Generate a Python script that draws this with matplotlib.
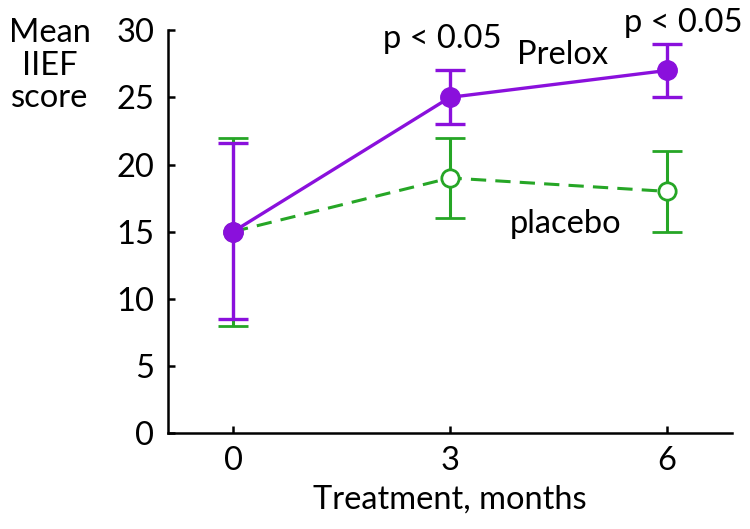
import numpy as np
import matplotlib
matplotlib.use('Agg')
import matplotlib.pyplot as plt

plt.rcParams['font.family'] = ['Lato', 'DejaVu Sans']

months = [0, 3, 6]

prelox_mean = [15, 25, 27]
prelox_lo = [8.5, 23, 25]
prelox_hi = [21.6, 27, 29]

placebo_mean = [15, 19, 18]
placebo_lo = [8, 16, 15]
placebo_hi = [22, 22, 21]

purple = '#8a10dc'
green = '#26a626'
fs = 23.5

fig = plt.figure(figsize=(7.5, 5.29), dpi=100)
ax = fig.add_axes([0.224, 0.181, 0.752, 0.762])

# placebo first so prelox sits on top
pl_err = [np.array(placebo_mean) - np.array(placebo_lo), np.array(placebo_hi) - np.array(placebo_mean)]
ax.errorbar(months, placebo_mean, yerr=pl_err, color=green, ecolor=green, elinewidth=2.2,
            capsize=11, capthick=2.2, linestyle=(0, (5, 3)), linewidth=2.2,
            marker='o', markersize=12.5, markerfacecolor='white', markeredgecolor=green,
            markeredgewidth=2, clip_on=False, zorder=2)

pr_err = [np.array(prelox_mean) - np.array(prelox_lo), np.array(prelox_hi) - np.array(prelox_mean)]
ax.errorbar(months, prelox_mean, yerr=pr_err, color=purple, ecolor=purple, elinewidth=2.4,
            capsize=11, capthick=2.4, linestyle='-', linewidth=2.4,
            marker='o', markersize=14, markerfacecolor=purple, markeredgecolor=purple,
            clip_on=False, zorder=3)

ax.set_xlim(-0.9, 6.9)
ax.set_ylim(0, 30)
ax.set_xticks(months)
ax.set_yticks([0, 5, 10, 15, 20, 25, 30])

for s in ['top', 'right']:
    ax.spines[s].set_visible(False)
for s in ['left', 'bottom']:
    ax.spines[s].set_linewidth(1.8)

ax.tick_params(direction='in', length=5, width=1.8, labelsize=fs)
ax.tick_params(axis='y', pad=10)
ax.tick_params(axis='x', pad=9)

ax.set_xlabel('Treatment, months', fontsize=fs, labelpad=6)

for lab, yb in zip(['Mean', 'IIEF', 'score'], [42, 75, 107]):
    fig.text(50 / 750, 1 - yb / 529, lab, fontsize=fs, ha='center', va='baseline')

ax.text(2.89, 28.65, 'p < 0.05', fontsize=fs, ha='center', va='baseline')
ax.text(6.22, 29.85, 'p < 0.05', fontsize=fs, ha='center', va='baseline', clip_on=False)
ax.text(4.55, 27.5, 'Prelox', fontsize=fs, ha='center', va='baseline')
ax.text(4.6, 14.9, 'placebo', fontsize=fs, ha='center', va='baseline')

fig.savefig('out.png', dpi=100)
